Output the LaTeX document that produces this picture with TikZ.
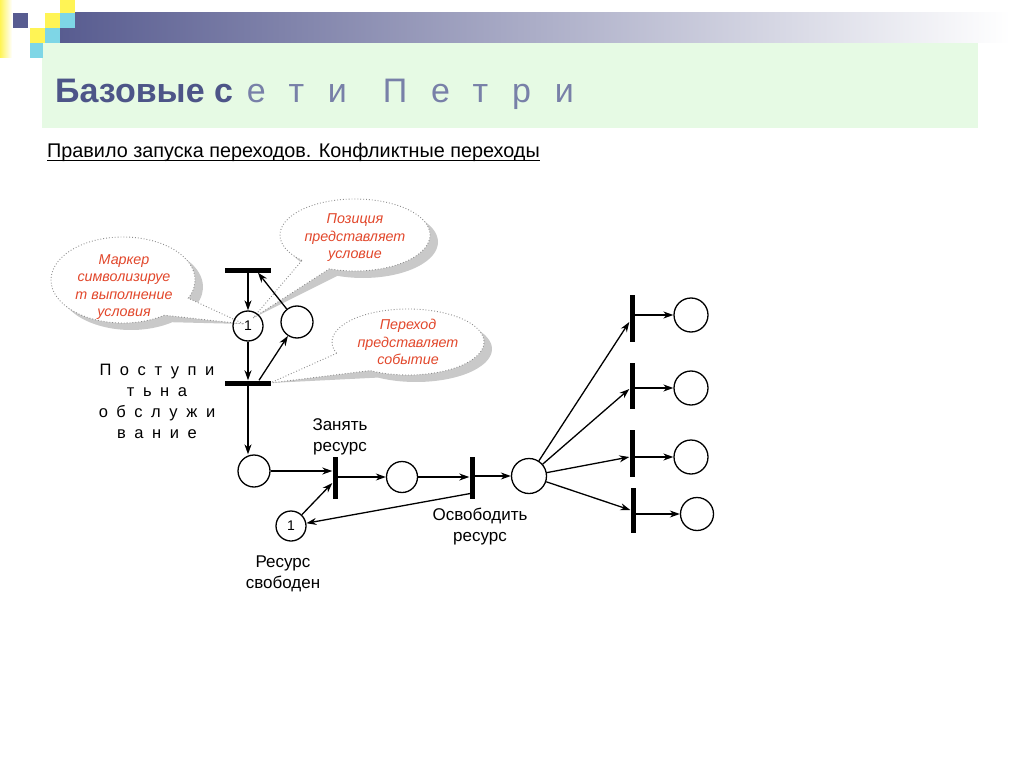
\documentclass[tikz,border=0pt]{standalone}
\usepackage{fontspec}
\setmainfont{Liberation Sans}
\newfontfamily\spacedfont[LetterSpace=52]{Liberation Sans}
\newfontfamily\widefont[LetterSpace=70]{Liberation Sans}
\usetikzlibrary{arrows.meta,calc,positioning,backgrounds}
\definecolor{hdrDark}{HTML}{585C90}
\definecolor{hdrYellow}{HTML}{FFF455}
\definecolor{hdrCyan}{HTML}{7ED6E6}
\definecolor{hdrGreen}{HTML}{E6FAE4}
\definecolor{titleBlue}{HTML}{4D5588}
\definecolor{titleLight}{HTML}{7880A8}
\definecolor{noteRed}{HTML}{E2472B}
\definecolor{bubbleGray}{HTML}{C9C9C9}
\definecolor{bubbleLine}{HTML}{8E8E8E}
% ellipse with a pointed tail: centre, x radius, y radius, start angle, end angle, tip
\newcommand{\bubblepath}[6]{(#1) ++(#4:#2 and #3) arc[start angle=#4, end angle=#5, x radius=#2, y radius=#3] -- (#6) -- cycle}

\begin{document}
\begin{tikzpicture}[x=1pt,y=-1pt]
\tikzset{place/.style={circle, draw, line width=1.3pt, minimum size=31pt, inner sep=0pt,
  font=\fontsize{14}{14}\selectfont},
 hbar/.style={rectangle, fill=black, minimum width=46pt, minimum height=5pt, inner sep=0pt},
 vbar/.style={rectangle, fill=black, minimum width=5pt, minimum height=44pt, inner sep=0pt},
 arr/.style={-{Stealth[length=10pt,width=7pt]}, line width=1.3pt},
 netlabel/.style={font=\fontsize{17}{21}\selectfont, align=center},
 note/.style={font=\fontsize{14.3}{17.5}\selectfont\itshape, text=noteRed, align=center},
 bubbleshadow/.style={fill=bubbleGray},
 bubble/.style={fill=white, draw=bubbleLine, dotted, line width=0.9pt}}
\useasboundingbox (0,0) rectangle (1024,767);

% header
\shade[left color=hdrYellow, right color=white] (0,0) rectangle (12,58);
\shade[left color=hdrDark, right color=white] (60,13) rectangle (1010,43);
\fill[hdrDark] (13,13) rectangle (28,28);
\fill[hdrYellow] (45,13) rectangle (60,28);
\fill[hdrYellow] (60,0) rectangle (75,13);
\fill[hdrCyan] (60,13) rectangle (75,28);
\fill[hdrYellow] (30,28) rectangle (45,43);
\fill[hdrCyan] (45,28) rectangle (60,43);
\fill[hdrGreen] (42,43) rectangle (978,128);
\fill[hdrCyan] (30,43) rectangle (43,58);
\node[anchor=base west, inner sep=0pt, text=titleBlue] (title) at (55,103)
 {\fontsize{34}{34}\selectfont\bfseries Базовые с\hspace{14pt}{\widefont\mdseries\color{titleLight}ети\hspace{36pt}Петри}};
\node[anchor=base west, inner sep=0pt, font=\fontsize{19.8}{22}\selectfont] (subtitle) at (47,158)
 {Правило запуска переходов. Конфликтные переходы};
\draw[line width=1pt] ($(subtitle.base west)+(0,3)$) -- ($(subtitle.base east)+(0,3)$);

% upper net
\node[hbar] (t1) at (248,270) {};
\node[place, minimum size=30pt] (p1) at (248,326) {1};
\node[place, minimum size=32pt] (p2) at (297,322) {};
\node[hbar] (t2) at (248,383) {};

% resource loop
\node[place, minimum size=32pt] (p3) at (254,471) {};
\node[vbar, minimum height=42pt] (t3) at (335,478) {};
\node[place, minimum size=30pt] (p4) at (291,526) {1};
\node[place] (p5) at (402,477) {};
\node[vbar, minimum height=42pt] (t4) at (472,478) {};
\node[place, minimum size=35pt] (p6) at (529,476) {};

% conflicting transitions
\node[vbar, minimum height=47pt] (t5) at (632,318) {};
\node[place, minimum size=34pt] (p7) at (691,315) {};
\node[vbar, minimum height=46pt] (t6) at (632,386) {};
\node[place, minimum size=34pt] (p8) at (691,388) {};
\node[vbar, minimum height=47pt] (t7) at (632,453) {};
\node[place, minimum size=34pt] (p9) at (691,457) {};
\node[vbar, minimum height=45pt] (t8) at (633,510) {};
\node[place, minimum size=33pt] (p10) at (697,514) {};

\draw[arr] (t1) -- (p1);
\draw[arr] (p2) -- ($(t1.south)+(10,0)$);
\draw[arr] (p1) -- (t2);
\draw[arr] ($(t2.north)+(11,0)$) -- (p2);
\draw[arr] (t2) -- (t2 |- p3.north);
\draw[arr] (p3) -- (p3 -| t3.west);
\draw[arr] (p4) -- ($(t3.west)+(0,5)$);
\draw[arr] (t3.east |- p5) -- (p5);
\draw[arr] (p5) -- (p5 -| t4.west);
\draw[arr] ($(t4.south)+(0,-6)$) -- (p4);
\draw[arr] (t4.east |- p6) -- (p6);
\draw[arr] (p6) -- ($(t5.west)+(0,4)$);
\draw[arr] (p6) -- ($(t6.west)+(0,3)$);
\draw[arr] (p6) -- ($(t7.west)+(0,4)$);
\draw[arr] (p6) -- (t8.west);
\draw[arr] (t5.east |- p7) -- (p7);
\draw[arr] (t6.east |- p8) -- (p8);
\draw[arr] (t7.east |- p9) -- (p9);
\draw[arr] (t8.east |- p10) -- (p10);

\node[netlabel] (take) at (340,437) {Занять\\ресурс};
\node[netlabel] (free) at (480,527) {Освободить\\ресурс};
\node[netlabel] (idle) at (283,574) {Ресурс\\свободен};
\node[netlabel, font=\spacedfont\fontsize{16.5}{21}\selectfont] (arrive) at (157,401)
 {Поступи\\тьна\\обслужи\\вание};

% callouts
\coordinate (tipmark) at ($(p1)+(-4,-2)$);
\coordinate (tipplace) at ($(p1)+(5,-8)$);
\coordinate (tiptrans) at ($(t2.east)+(-1,0)$);
\begin{scope}[on background layer]
\fill[bubbleshadow, shift={(8,7)}] \bubblepath{123,280}{72}{43}{55}{385}{tipmark};
\fill[bubbleshadow, shift={(8,7)}] \bubblepath{355,235}{75}{36}{135}{470}{tipplace};
\fill[bubbleshadow, shift={(8,7)}] \bubblepath{408,342}{76}{33}{160}{480}{tiptrans};
\filldraw[bubble] \bubblepath{123,280}{72}{43}{55}{385}{tipmark};
\filldraw[bubble] \bubblepath{355,235}{75}{36}{135}{470}{tipplace};
\filldraw[bubble] \bubblepath{408,342}{76}{33}{160}{480}{tiptrans};
\end{scope}
\node[note] (note1) at (124,287) {Маркер\\символизируе\\т выполнение\\условия};
\node[note] (note2) at (355,238) {Позиция\\представляет\\условие};
\node[note] (note3) at (408,342) {Переход\\представляет\\событие};
\end{tikzpicture}
\end{document}
